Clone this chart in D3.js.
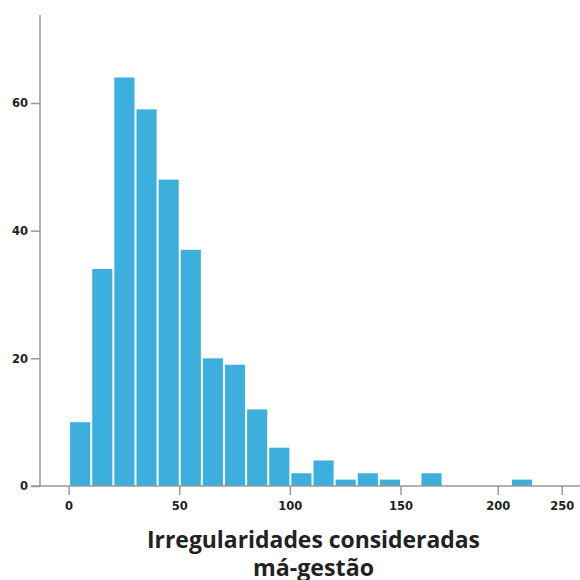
<!DOCTYPE html>
<html><head><meta charset="utf-8">
<script src="https://cdn.jsdelivr.net/npm/d3@7"></script>
<style>body{margin:0;background:#fff}svg{display:block}</style>
</head><body><svg id="c" width="580" height="580"></svg>
<script>
// Histogram bins (lower edge) and counts
const binStarts = [0,10,20,30,40,50,60,70,80,90,100,110,120,130,140,160,210];
const binWidth = 10;
const counts = [10,34,64,59,48,37,20,19,12,6,2,4,1,2,1,2,1];
const xTicks = [0,50,100,150,200,250];
const yTicks = [0,20,40,60];
const titleLines = ["Irregularidades consideradas","má-gestão"];

const svg = d3.select("#c");
const x = d3.scaleLinear().domain([0,150,200,250]).range([68.6,400.5,497.7,561.7]);
const y = d3.scaleLinear().domain([0,60]).range([486,103]);
const step = x(binWidth) - x(0);

const bins = binStarts.map((s,i)=>({x0:s,x1:s+binWidth,n:counts[i]}));

svg.append("g").selectAll("rect").data(bins).join("rect")
  .attr("x", d=>x(d.x0)+1.5)
  .attr("width", step-2)
  .attr("y", d=>y(d.n))
  .attr("height", d=>y(0)-y(d.n))
  .attr("fill","#3dafdc");

const tickFont = "'DejaVu Sans', sans-serif";

// X axis
const xa = svg.append("g").attr("transform","translate(0,486)")
  .call(d3.axisBottom(x).tickValues(xTicks).tickSize(9).tickPadding(7).tickFormat(d3.format("d")));
xa.select(".domain").remove();
xa.append("line").attr("x1",31).attr("x2",580).attr("y1",0).attr("y2",0)
  .attr("stroke","#999").attr("stroke-width",1.5);
xa.selectAll(".tick line").attr("stroke","#999").attr("stroke-width",1.5);
xa.selectAll(".tick text").attr("fill","#222").attr("font-family",tickFont)
  .attr("font-weight","bold").attr("font-size",11.5);

// Y axis
const ya = svg.append("g").attr("transform","translate(40,0)")
  .call(d3.axisLeft(y).tickValues(yTicks).tickSize(9).tickPadding(3).tickFormat(d3.format("d")));
ya.select(".domain").remove();
ya.append("line").attr("x1",0).attr("x2",0).attr("y1",15).attr("y2",486)
  .attr("stroke","#999").attr("stroke-width",1.5);
ya.selectAll(".tick line").attr("stroke","#999").attr("stroke-width",1.5);
ya.selectAll(".tick text").attr("fill","#222").attr("font-family",tickFont)
  .attr("font-weight","bold").attr("font-size",11.5).attr("text-anchor","end");

// Title
const tt = svg.append("g").attr("font-family","'Open Sans', 'Noto Sans', sans-serif")
  .attr("font-weight","bold").attr("font-size",24).attr("fill","#222").attr("text-anchor","middle");
tt.append("text").attr("x",313.5).attr("y",548).text(titleLines[0])
  .attr("textLength",333).attr("lengthAdjust","spacingAndGlyphs");
tt.append("text").attr("x",313.5).attr("y",576).text(titleLines[1])
  .attr("textLength",121).attr("lengthAdjust","spacingAndGlyphs");
</script></body></html>
